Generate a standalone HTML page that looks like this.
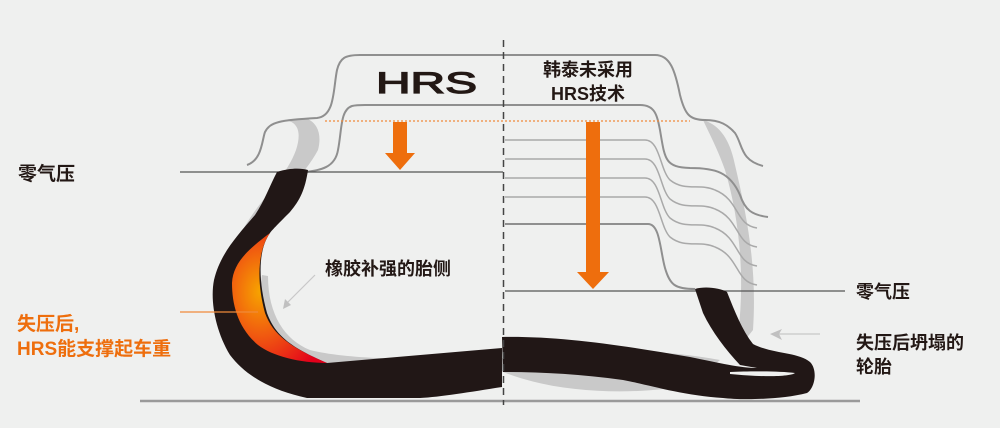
<!DOCTYPE html>
<html><head><meta charset="utf-8"><style>
html,body{margin:0;padding:0;background:#eff0ef;}
svg{display:block}
text{font-family:"Liberation Sans","Noto Sans CJK SC",sans-serif;font-weight:bold}
</style></head><body>
<svg width="1000" height="428" viewBox="0 0 1000 428" xmlns="http://www.w3.org/2000/svg">
<rect width="1000" height="428" fill="#eff0ef"/>
<defs>
<radialGradient id="rg" cx="0.3" cy="0.45" r="0.75">
<stop offset="0" stop-color="#f7a500"/><stop offset="0.45" stop-color="#f05a10"/><stop offset="1" stop-color="#e3001b"/>
</radialGradient>
</defs>
<!-- ghost bands -->
<path d="M282,120 C298,120 302,132 296,150 C285,180 258,200 240,235 L256,238 C272,205 305,175 318,150 C322,135 318,122 305,118 Z" fill="#c9c9c9"/>
<path d="M262,275 C255,320 275,355 330,368 L505,372 L505,358 C420,360 350,360 310,350 C285,340 268,315 268,276 Z" fill="#c9c9c9"/>
<path d="M703,120 C720,125 730,140 735,165 C748,220 757,270 753,330 L745,340 L738,335 C745,280 740,220 725,170 C718,150 710,135 703,120 Z" fill="#c9c9c9"/>
<path d="M503,372 C560,395 640,395 690,385 L720,360 C640,345 560,350 503,372 Z" fill="#c9c9c9"/>
<!-- wheel outlines -->
<g fill="none" stroke="#8f8f8f" stroke-width="2">
<path d="M247,165 C262,160 262,140 265,132 C270,122 280,120 317,118 C335,116 333,90 337,70 C340,58 345,55 360,55 H655 C670,55 675,70 680,95 C685,115 690,120 705,120 C720,120 728,125 735,133 C743,145 740,160 763,166"/>
<path d="M306,172 C320,170 335,168 338,150 C342,130 340,110 352,106 C356,105 360,105 365,105 H640 C655,105 657,115 660,130 C665,160 665,167 690,168 C715,168 730,172 740,195 C745,210 752,215 768,217"/>
<path d="M505,224 H648 C660,224 660,250 665,268 C670,285 675,289 695,289"/>
</g>
<g fill="none" stroke="#a9a9a9" stroke-width="1.5">
<path d="M505,140 H645 C660,140 660,170 670,180 C685,192 700,183 715,190 C740,200 735,225 757,228"/>
<path d="M505,159 H645 C660,159 660,189 670,199 C685,211 700,202 715,209 C740,219 735,244 757,247"/>
<path d="M505,178 H645 C660,178 660,208 670,218 C685,230 700,221 715,228 C740,238 735,263 757,266"/>
<path d="M505,197 H645 C660,197 660,227 670,237 C685,249 700,240 715,247 C740,257 735,282 757,285"/>
</g>
<!-- horizontal lines -->
<line x1="180" y1="172" x2="503" y2="172" stroke="#555" stroke-width="1.3"/>
<line x1="505" y1="291" x2="845" y2="291" stroke="#555" stroke-width="1.3"/>
<line x1="325" y1="121" x2="690" y2="121" stroke="#f08a3a" stroke-width="1.2" stroke-dasharray="2,2"/>
<line x1="140" y1="401" x2="860" y2="401" stroke="#9a9a9a" stroke-width="2.5"/>
<!-- left tire -->
<path d="M277,172 C290,168 300,168 308,170 C305,190 300,200 290,212 C280,222 272,230 270,233 C258,250 258,280 267,313 C275,335 290,347 327,363 L502,348 L502,387 C470,392 440,397 420,398 L307,398 C270,390 245,375 230,355 C215,330 210,300 214,280 C220,255 235,238 255,215 C265,200 270,185 277,172 Z" fill="#211716"/>
<path d="M270,233 C258,250 256,280 265,313 C273,335 290,347 327,363 C300,363 272,356 258,345 C238,328 232,305 232,283 C233,262 250,248 270,233 Z" fill="url(#rg)"/>
<!-- right tire -->
<path d="M502,337 C560,336 620,345 690,357 C720,363 740,368 757,368 L740,365 C726,350 712,332 703,313 L695,289 C705,286 720,288 727,292 C735,312 742,330 753,344 C772,354 798,352 810,362 C818,370 815,388 807,393 C780,400 740,400 723,398 C680,395 650,385 623,380 C580,374 540,372 503,372 Z" fill="#211716"/>
<path d="M730,372 C750,371 780,371 795,373 C790,377 760,377 730,374 Z" fill="#eff0ef"/>
<!-- dashed center -->
<line x1="503.5" y1="40" x2="503.5" y2="405" stroke="#444" stroke-width="1.5" stroke-dasharray="7,5"/>
<!-- arrows -->
<path d="M393,122 H407 V153 H415 L400,170 L385,153 H393 Z" fill="#ee6e0d"/>
<path d="M586,122 H600 V272 H609 L593,289 L577,272 H586 Z" fill="#ee6e0d"/>
<!-- pointers -->
<line x1="180" y1="312" x2="258" y2="312" stroke="#f08a3a" stroke-width="1.2"/>
<line x1="315" y1="275" x2="285" y2="305" stroke="#c8c8c8" stroke-width="1.2"/>
<path d="M283,309 L285,299 L291,305 Z" fill="#c0c0c0"/>
<line x1="820" y1="334" x2="775" y2="334" stroke="#c8c8c8" stroke-width="1.2"/>
<path d="M770,334 L782,329 L779,334 L782,340 Z" fill="#c0c0c0"/>
<!-- texts -->
<text x="18" y="180" font-size="19" fill="#231815">零气压</text>
<text x="325" y="275" font-size="18" fill="#231815">橡胶补强的胎侧</text>
<text x="17" y="330" font-size="19" fill="#ee6e0d">失压后,</text>
<text x="17" y="355" font-size="19" fill="#ee6e0d">HRS能支撑起车重</text>
<text x="856" y="298" font-size="18" fill="#231815">零气压</text>
<text x="856" y="349" font-size="18" fill="#231815">失压后坍塌的</text>
<text x="856" y="373" font-size="18" fill="#231815">轮胎</text>
<text x="588" y="76" font-size="18" fill="#231815" text-anchor="middle">韩泰未采用</text>
<text x="588" y="100" font-size="18" fill="#231815" text-anchor="middle">HRS技术</text>
<text x="376" y="93" font-size="30" fill="#231815" stroke="#231815" stroke-width="1.2" textLength="101" lengthAdjust="spacingAndGlyphs" style="font-weight:normal">HRS</text>
</svg>
</body></html>
